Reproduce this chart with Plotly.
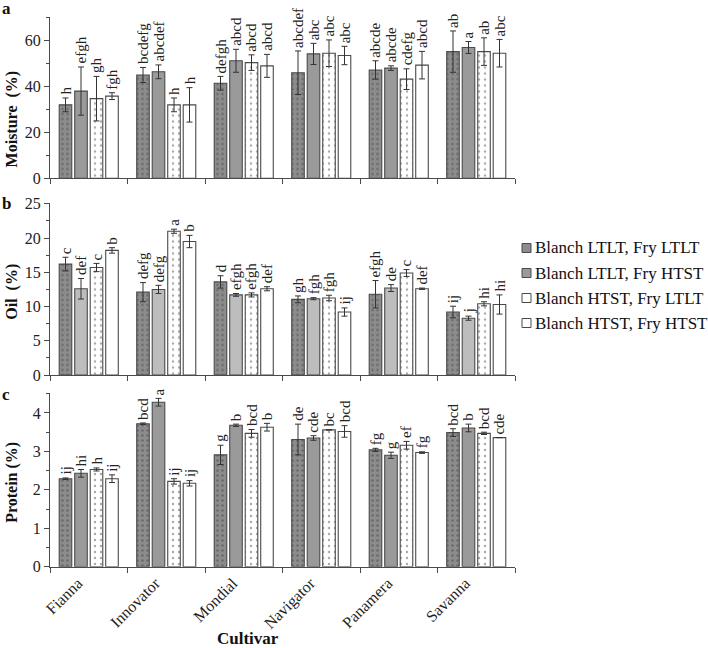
import plotly.graph_objects as go

# ---------------- data ----------------
cultivars = ["Fianna", "Innovator", "Mondial", "Navigator", "Panamera", "Savanna"]
series_names = ["Blanch LTLT, Fry LTLT", "Blanch LTLT, Fry HTST",
                "Blanch HTST, Fry LTLT", "Blanch HTST, Fry HTST"]

moisture_s1 = [32.0, 45.0, 41.4, 46.0, 47.2, 55.2]
moisture_s2 = [38.0, 46.4, 51.2, 54.2, 48.0, 57.0]
moisture_s3 = [34.7, 32.0, 50.4, 54.5, 43.2, 55.2]
moisture_s4 = [35.8, 32.0, 49.0, 53.5, 49.3, 54.5]
moisture_e1 = [3.0, 3.3, 3.0, 9.5, 4.0, 9.0]
moisture_e2 = [10.5, 3.0, 5.0, 4.6, 1.0, 2.6]
moisture_e3 = [9.7, 3.0, 3.4, 5.8, 4.5, 6.0]
moisture_e4 = [1.5, 7.5, 5.0, 4.0, 6.0, 6.0]
moisture_l1 = ["h", "bcdefg", "defgh", "abcdef", "abcde", "ab"]
moisture_l2 = ["efgh", "abcdef", "abcd", "abc", "abcde", "a"]
moisture_l3 = ["gh", "h", "abcd", "abc", "cdefg", "ab"]
moisture_l4 = ["fgh", "h", "abcd", "abc", "abcd", "abc"]

oil_s1 = [16.2, 12.1, 13.6, 11.05, 11.8, 9.2]
oil_s2 = [12.6, 12.5, 11.7, 11.15, 12.7, 8.3]
oil_s3 = [15.7, 21.0, 11.7, 11.25, 14.9, 10.4]
oil_s4 = [18.2, 19.5, 12.6, 9.2, 12.6, 10.3]
oil_e1 = [1.0, 1.4, 0.9, 0.5, 2.0, 0.85]
oil_e2 = [1.5, 0.6, 0.2, 0.15, 0.5, 0.3]
oil_e3 = [0.6, 0.3, 0.3, 0.4, 0.5, 0.3]
oil_e4 = [0.4, 0.9, 0.3, 0.6, 0.1, 1.4]
oil_l1 = ["c", "defg", "d", "gh", "efgh", "ij"]
oil_l2 = ["def", "defg", "efgh", "fgh", "de", "j"]
oil_l3 = ["c", "a", "efgh", "fgh", "c", "hi"]
oil_l4 = ["b", "b", "def", "ij", "def", "hi"]

protein_s1 = [2.29, 3.72, 2.91, 3.31, 3.04, 3.49]
protein_s2 = [2.43, 4.28, 3.68, 3.35, 2.90, 3.61]
protein_s3 = [2.53, 2.22, 3.47, 3.56, 3.16, 3.47]
protein_s4 = [2.29, 2.17, 3.63, 3.52, 2.97, 3.36]
protein_e1 = [0.02, 0.02, 0.25, 0.40, 0.04, 0.10]
protein_e2 = [0.10, 0.10, 0.03, 0.06, 0.08, 0.10]
protein_e3 = [0.04, 0.07, 0.10, 0.00, 0.10, 0.03]
protein_e4 = [0.10, 0.07, 0.10, 0.15, 0.02, 0.00]
protein_l1 = ["ij", "bcd", "g", "de", "fg", "bcd"]
protein_l2 = ["hi", "a", "b", "cde", "g", "b"]
protein_l3 = ["h", "ij", "bcd", "bc", "ef", "bcd"]
protein_l4 = ["ij", "ij", "b", "bcd", "fg", "cde"]

panels = [
    dict(title="Moisture  (%)", tag="a",
         means=[moisture_s1, moisture_s2, moisture_s3, moisture_s4],
         errs=[moisture_e1, moisture_e2, moisture_e3, moisture_e4],
         letters=[moisture_l1, moisture_l2, moisture_l3, moisture_l4],
         rng=[0, 70.5], dtick=20, minor=10, s2col="#9a9a9a"),
    dict(title="Oil  (%)", tag="b",
         means=[oil_s1, oil_s2, oil_s3, oil_s4],
         errs=[oil_e1, oil_e2, oil_e3, oil_e4],
         letters=[oil_l1, oil_l2, oil_l3, oil_l4],
         rng=[0, 25.2], dtick=5, minor=2.5, s2col="#bdbdbd"),
    dict(title="Protein (%)", tag="c",
         means=[protein_s1, protein_s2, protein_s3, protein_s4],
         errs=[protein_e1, protein_e2, protein_e3, protein_e4],
         letters=[protein_l1, protein_l2, protein_l3, protein_l4],
         rng=[0, 4.52], dtick=1, minor=0.5, s2col="#9a9a9a"),
]

# ---------------- layout geometry ----------------
W, H = 708, 648
ML, MR, MT, MB = 50, 193, 10, 81
PW, PH = W - ML - MR, H - MT - MB


def px2x(px):
    return (px - ML) / PW


def py2y(py):
    return (H - MB - py) / PH


# pixel extents (top, bottom) of each panel
panel_px = [(16.5, 178.3), (202.5, 375.0), (393.0, 566.7)]

SERIF = "Liberation Serif, Times New Roman, serif"
LINE = "#4a4a4a"

fig = go.Figure()
annotations = []

for p_i, p in enumerate(panels):
    suffix = "" if p_i == 0 else str(p_i + 1)
    xref, yref = "x" + suffix, "y" + suffix
    s_styles = [
        dict(pattern=dict(shape=".", fillmode="replace", bgcolor="#8c8c8c",
                          fgcolor="#6a6a6a", size=5, solidity=0.2)),
        dict(color=p["s2col"]),
        dict(pattern=dict(shape=".", fillmode="replace", bgcolor="#ffffff",
                          fgcolor="#a8a8a8", size=6, solidity=0.12)),
        dict(color="#ffffff"),
    ]
    for s in range(4):
        marker = dict(line=dict(color=LINE, width=1.1))
        marker.update(s_styles[s])
        if "pattern" in marker:
            marker["color"] = marker["pattern"]["bgcolor"]
        fig.add_trace(go.Bar(
            x=cultivars, y=p["means"][s], name=series_names[s],
            marker=marker, showlegend=False,
            error_y=dict(type="data", array=p["errs"][s], color="#333333",
                         thickness=1, width=3),
            xaxis=xref, yaxis=yref,
        ))
        for c in range(len(cultivars)):
            annotations.append(dict(
                x=c + (s - 1.5) * 0.2, y=p["means"][s][c] + p["errs"][s][c],
                xref=xref, yref=yref, text=p["letters"][s][c],
                textangle=-90, showarrow=False, xanchor="center",
                yanchor="bottom", yshift=1,
                font=dict(family=SERIF, size=15, color="#222222")))
    top, bot = panel_px[p_i]
    dom = [py2y(bot), py2y(top)]
    xa = dict(type="category", categoryorder="array", categoryarray=cultivars,
              range=[-0.5, 5.5], anchor=yref, showline=True, linecolor=LINE,
              linewidth=1, ticks="outside", tickson="boundaries", ticklen=5,
              tickcolor=LINE, showgrid=False, zeroline=False,
              showticklabels=(p_i == 2), tickangle=-45, ticklabelshift=-11,
              tickfont=dict(family=SERIF, size=16, color="#222222"))
    if p_i > 0:
        xa["matches"] = "x"
    ya = dict(domain=dom, range=p["rng"], anchor=xref, showline=True,
              linecolor=LINE, linewidth=1, ticks="outside", ticklen=5,
              tickcolor=LINE, dtick=p["dtick"], showgrid=False, zeroline=False,
              tickfont=dict(family=SERIF, size=16, color="#222222"),
              minor=dict(dtick=p["minor"], ticks="outside", ticklen=3,
                         tickcolor=LINE, showgrid=False))
    fig.layout["xaxis" + suffix] = xa
    fig.layout["yaxis" + suffix] = ya
    # axis title
    annotations.append(dict(
        x=px2x(12), y=py2y((top + bot) / 2 + (22 if p_i == 0 else 3)),
        xref="paper", yref="paper", text="<b>%s</b>" % p["title"],
        textangle=-90, showarrow=False, xanchor="center", yanchor="middle",
        font=dict(family=SERIF, size=16, color="#111111")))
    # panel tag
    annotations.append(dict(
        x=px2x(6), y=py2y(top - 8 if p_i == 0 else top + 1),
        xref="paper", yref="paper", text="<b>%s</b>" % p["tag"],
        showarrow=False, xanchor="center", yanchor="middle",
        font=dict(family=SERIF, size=17, color="#111111")))

# x title
annotations.append(dict(
    x=px2x(248), y=py2y(638), xref="paper", yref="paper",
    text="<b>Cultivar</b>", showarrow=False, xanchor="center",
    yanchor="middle", font=dict(family=SERIF, size=17, color="#111111")))

# manual legend
legend_fill = ["#8c8c8c", "#9a9a9a", "#ffffff", "#ffffff"]
legend_y = [248, 273, 298, 323]
shapes = []
for s in range(4):
    cy = legend_y[s]
    shapes.append(dict(type="rect", xref="paper", yref="paper",
                       x0=px2x(522), x1=px2x(531), y0=py2y(cy + 4.5),
                       y1=py2y(cy - 4.5), fillcolor=legend_fill[s],
                       line=dict(color=LINE, width=1)))
    annotations.append(dict(
        x=px2x(533), y=py2y(cy), xref="paper", yref="paper",
        text=series_names[s], showarrow=False, xanchor="left",
        yanchor="middle", font=dict(family=SERIF, size=17, color="#111111")))

fig.update_layout(
    width=W, height=H, margin=dict(l=ML, r=MR, t=MT, b=MB, autoexpand=False),
    paper_bgcolor="white", plot_bgcolor="white",
    barmode="group", bargap=0.2, bargroupgap=0.19,
    annotations=annotations, shapes=shapes, showlegend=False,
)

# remove the default 8px page margin so the figure fills the window exactly
fig.write_html("out.html",
               config={"staticPlot": True, "displayModeBar": False},
               post_script="document.body.style.margin='0px';"
                           "document.body.style.overflow='hidden';")
